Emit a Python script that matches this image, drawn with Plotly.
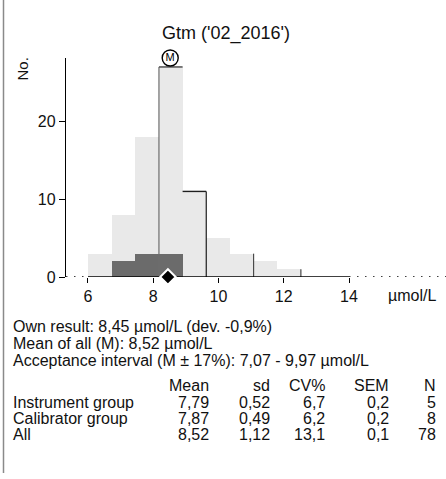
import plotly.graph_objects as go

# ---- data ----
bin_edges = [6.0, 6.725, 7.45, 8.175, 8.9, 9.625, 10.35, 11.075, 11.8, 12.525]
counts_all = [3, 8, 18, 27, 11, 5, 3, 2, 1]
counts_calibrator = [0, 2, 3, 3, 0, 0, 0, 0, 0]
own_result = 8.45
mean_all = 8.52
x_ticks = [6, 8, 10, 12, 14]
y_ticks = [0, 10, 20]
# outline edges: (edge index, bin index whose height is used)
marked_edges = [(3, 3), (5, 4), (7, 6), (9, 8)]
marked_tops = [3, 4]

title = "Gtm ('02_2016')"
info_lines = [
    "Own result: 8,45 µmol/L (dev. -0,9%)",
    "Mean of all (M): 8,52 µmol/L",
    "Acceptance interval (M ± 17%): 7,07 - 9,97 µmol/L",
]
table_header = ["Mean", "sd", "CV%", "SEM", "N"]
table_rows = ["Instrument group", "Calibrator group", "All"]
table_values = [
    ["7,79", "0,52", "6,7", "0,2", "5"],
    ["7,87", "0,49", "6,2", "0,2", "8"],
    ["8,52", "1,12", "13,1", "0,1", "78"],
]

# ---- layout geometry ----
W, H = 446, 479
L, R, T, B = 66, 0, 58, 202
PW, PH = W - L - R, H - T - B
XR = [5.326, 16.973]
YR = [0, 28.15]
FONT = "Liberation Sans, Arial, sans-serif"


def px(xp):
    return (xp - L) / PW


def py(yp):
    return (H - B - yp) / PH


centers = [(bin_edges[i] + bin_edges[i + 1]) / 2 for i in range(len(counts_all))]
widths = [bin_edges[i + 1] - bin_edges[i] for i in range(len(counts_all))]

fig = go.Figure()
fig.add_trace(go.Bar(x=centers, y=counts_all, width=widths,
                     marker=dict(color="#e9e9e9", line=dict(width=0)),
                     hoverinfo="skip"))
fig.add_trace(go.Bar(x=centers, y=counts_calibrator, width=widths,
                     marker=dict(color="#6b6b6b", line=dict(width=0)),
                     hoverinfo="skip"))

# outline lines
line_colors = ["#6e6e6e", "#1e1e1e", "#4a4a4a", "#4a4a4a"]
for (ei, bi), c in zip(marked_edges, line_colors):
    fig.add_trace(go.Scatter(x=[bin_edges[ei], bin_edges[ei]], y=[0, counts_all[bi]],
                             mode="lines", line=dict(color=c, width=1.2),
                             hoverinfo="skip"))
top_colors = ["#444444", "#1e1e1e"]
for bi, c in zip(marked_tops, top_colors):
    fig.add_trace(go.Scatter(x=[bin_edges[bi], bin_edges[bi + 1]], y=[counts_all[bi]] * 2,
                             mode="lines", line=dict(color=c, width=1.4),
                             hoverinfo="skip"))

# baseline: solid between 6 and 14, dotted beyond
fig.add_trace(go.Scatter(x=[x_ticks[0], x_ticks[-1]], y=[0, 0], mode="lines",
                         line=dict(color="black", width=1.3), hoverinfo="skip"))
fig.add_trace(go.Scatter(x=[XR[0], x_ticks[0]], y=[0, 0], mode="lines",
                         line=dict(color="black", width=1.5, dash="1.5px,6.5px"), hoverinfo="skip"))
fig.add_trace(go.Scatter(x=[x_ticks[-1], XR[1]], y=[0, 0], mode="lines",
                         line=dict(color="black", width=1.5, dash="1.5px,6.5px"), hoverinfo="skip"))

# own result diamond
fig.add_trace(go.Scatter(x=[own_result], y=[0], mode="markers",
                         marker=dict(symbol="diamond", size=12, color="black",
                                     line=dict(color="white", width=2)),
                         cliponaxis=False, hoverinfo="skip"))
# mean marker (circled M)
fig.add_trace(go.Scatter(x=[mean_all], y=[YR[1]], mode="markers+text", text=["M"],
                         textposition="middle center",
                         textfont=dict(family=FONT, size=11, color="black"),
                         marker=dict(symbol="circle-open", size=16, color="black",
                                     line=dict(color="black", width=1.4)),
                         cliponaxis=False, hoverinfo="skip"))

ann = []
ann.append(dict(text=title, x=px(226), y=py(33), xref="paper", yref="paper",
                showarrow=False, font=dict(family=FONT, size=18, color="#111"),
                xanchor="center", yanchor="middle"))
ann.append(dict(text="No.", x=px(22), y=py(56), xref="paper", yref="paper",
                showarrow=False, textangle=-90, font=dict(family=FONT, size=15, color="#111"),
                xanchor="center", yanchor="top"))
ann.append(dict(text="µmol/L", x=px(438), y=py(295), xref="paper", yref="paper",
                showarrow=False, font=dict(family=FONT, size=16, color="#111"),
                xanchor="right", yanchor="middle"))
info_y = [326, 343, 360]
for t, yy in zip(info_lines, info_y):
    ann.append(dict(text=t, x=px(11), y=py(yy), xref="paper", yref="paper",
                    showarrow=False, font=dict(family=FONT, size=16, color="#111"),
                    xanchor="left", yanchor="middle"))
col_x = [211, 272, 327, 391, 438]
header_y = 385
row_y = [402, 418, 434]
for h, cx in zip(table_header, col_x):
    ann.append(dict(text=h, x=px(cx), y=py(header_y), xref="paper", yref="paper",
                    showarrow=False, font=dict(family=FONT, size=16, color="#111"),
                    xanchor="right", yanchor="middle"))
for name, vals, yy in zip(table_rows, table_values, row_y):
    ann.append(dict(text=name, x=px(11), y=py(yy), xref="paper", yref="paper",
                    showarrow=False, font=dict(family=FONT, size=16, color="#111"),
                    xanchor="left", yanchor="middle"))
    for v, cx in zip(vals, col_x):
        ann.append(dict(text=v, x=px(cx), y=py(yy), xref="paper", yref="paper",
                        showarrow=False, font=dict(family=FONT, size=16, color="#111"),
                        xanchor="right", yanchor="middle"))

shapes = [dict(type="line", xref="paper", yref="paper", x0=px(3.5), x1=px(3.5),
               y0=py(0), y1=py(473), line=dict(color="#8a8a8a", width=1.5))]

fig.update_layout(
    width=W, height=H, margin=dict(l=L, r=R, t=T, b=B, pad=0),
    paper_bgcolor="white", plot_bgcolor="white",
    barmode="overlay", bargap=0, showlegend=False,
    font=dict(family=FONT, size=16, color="#111"),
    annotations=ann, shapes=shapes,
    xaxis=dict(range=XR, tickvals=x_ticks, ticks="outside", ticklen=5, tickwidth=1.2,
               tickcolor="black", showline=False, showgrid=False, zeroline=False,
               tickfont=dict(family=FONT, size=16, color="#111"), fixedrange=True),
    yaxis=dict(range=YR, tickvals=y_ticks, ticks="outside", ticklen=6, tickwidth=1.2,
               tickcolor="black", showline=True, linecolor="black", linewidth=1.3,
               showgrid=False, zeroline=False,
               tickfont=dict(family=FONT, size=16, color="#111"), fixedrange=True),
)

fig.write_html("out.html", config={"displayModeBar": False},
               post_script="document.body.style.margin='0';document.body.style.overflow='hidden';")
